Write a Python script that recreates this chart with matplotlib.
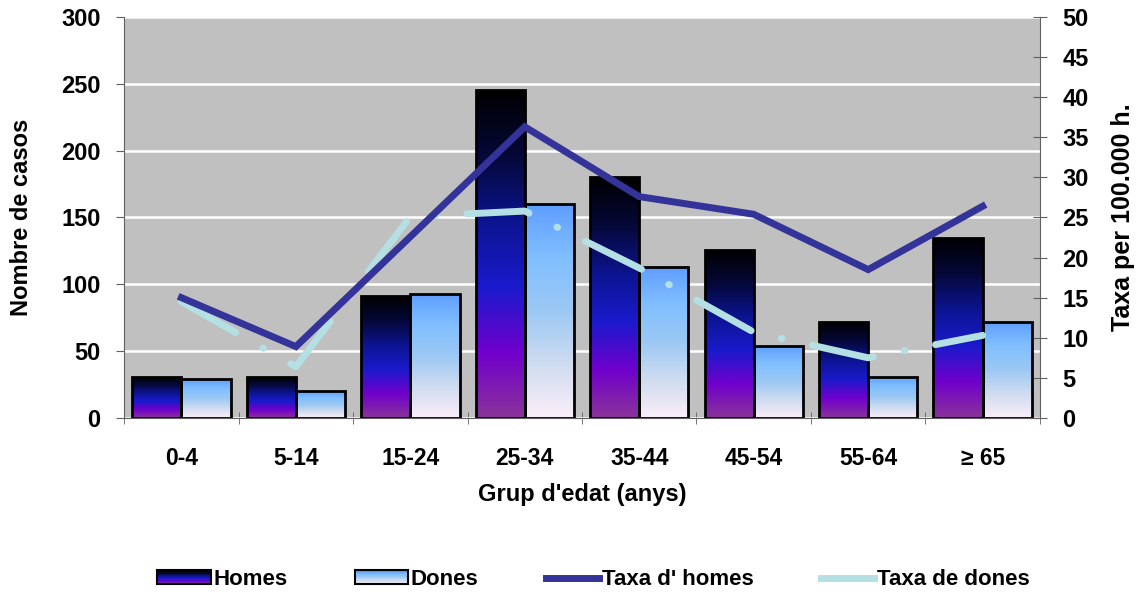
import numpy as np
import matplotlib.pyplot as plt
from matplotlib.colors import LinearSegmentedColormap
from matplotlib.patches import Rectangle
from matplotlib.lines import Line2D
from matplotlib.legend_handler import HandlerBase

plt.rcParams['font.family'] = ['Liberation Sans', 'DejaVu Sans']
plt.rcParams['font.weight'] = 'bold'

# dades
grups = ['0-4', '5-14', '15-24', '25-34', '35-44', '45-54', '55-64', '≥ 65']
casos_homes = [31, 31, 91, 245, 180, 126, 72, 135]
casos_dones = [29, 20, 93, 160, 113, 54, 31, 72]
taxa_homes = [15.0, 8.9, 22.6, 36.3, 27.6, 25.4, 18.5, 26.4]
taxa_dones = [14.5, 6.4, 25.1, 25.8, 18.7, 10.7, 7.5, 10.3]

# degradats de les barres (de baix a dalt)
cmap_homes = LinearSegmentedColormap.from_list(
    'homes', ['#8a3399', '#7000cc', '#1a1acc', '#0c1490', '#050838', '#000000'])
cmap_dones = LinearSegmentedColormap.from_list(
    'dones', ['#fbeef8', '#d0dcf0', '#9cc8f4', '#80bfff', '#5f9dff'])

fig = plt.figure(figsize=(11.39, 5.95), dpi=100)
ax = fig.add_axes([0.109, 0.2975, 0.804, 0.674])
ax.set_facecolor('#c0c0c0')

x = np.arange(len(grups))
amplada = 0.43
grad = np.linspace(0, 1, 256).reshape(-1, 1)


def barres_degradat(xs, valors, cmap):
    bars = ax.bar(xs, valors, amplada, facecolor='none', edgecolor='black',
                  linewidth=2, zorder=3)
    for b in bars:
        x0, w, h = b.get_x(), b.get_width(), b.get_height()
        im = ax.imshow(grad, cmap=cmap, origin='lower', aspect='auto',
                       extent=(x0, x0 + w, 0, h), zorder=2)
        im.set_clip_path(b)
    return bars


barres_degradat(x - amplada / 2, casos_homes, cmap_homes)
barres_degradat(x + amplada / 2, casos_dones, cmap_dones)

ax.set_xlim(-0.5, len(grups) - 0.5)
ax.set_ylim(0, 300)
ax.set_yticks(range(0, 301, 50))
ax.set_xticks(x)
ax.set_xticklabels(grups)
ax.set_xticks(np.arange(-0.5, len(grups), 1), minor=True)
ax.tick_params(axis='x', which='major', length=0, labelsize=16.5, pad=21)
ax.tick_params(axis='x', which='minor', length=8, direction='inout',
               color='#606060')
ax.tick_params(axis='y', labelsize=17, length=6, color='#606060', pad=11)
ax.yaxis.grid(True, color='white', linewidth=1.8)
ax.set_axisbelow(True)
for s in ['top', 'right']:
    ax.spines[s].set_visible(False)
ax.spines['left'].set_color('#606060')
ax.spines['bottom'].set_color('#606060')
ax.set_xlabel("Grup d'edat (anys)", fontsize=17, fontweight='bold', labelpad=9)
ax.set_ylabel('Nombre de casos', fontsize=17, fontweight='bold', labelpad=20)

# taxes a l'eix dret
ax2 = ax.twinx()
ax2.set_ylim(0, 50)
ax2.set_yticks(range(0, 51, 5))
ax2.tick_params(axis='y', labelsize=17, length=10, direction='inout',
                color='#606060', pad=11)
for s in ['top', 'left', 'bottom']:
    ax2.spines[s].set_visible(False)
ax2.spines['right'].set_color('#606060')
ax2.set_ylabel('Taxa per 100.000 h.', fontsize=18, fontweight='bold',
               labelpad=16)

ax2.plot(x, taxa_homes, color='#333399', linewidth=5, zorder=5,
         solid_joinstyle='miter')
ld, = ax2.plot(x, taxa_dones, color='#b4e0e4', linewidth=5, zorder=4,
               dash_capstyle='round')
ld.set_dashes((9, 4.5, 0.1, 4.5))


class HandlerGradient(HandlerBase):
    def __init__(self, cmap):
        super().__init__()
        self.cmap = cmap

    def create_artists(self, legend, orig_handle, xdescent, ydescent,
                       width, height, fontsize, trans):
        arts = []
        n = 12
        for i in range(n):
            r = Rectangle((-xdescent, -ydescent + height * i / n), width,
                          height / n + 0.2, facecolor=self.cmap(i / (n - 1)),
                          edgecolor='none', transform=trans)
            arts.append(r)
        arts.append(Rectangle((-xdescent, -ydescent), width, height,
                              facecolor='none', edgecolor='black',
                              linewidth=1.5, transform=trans))
        return arts


h_homes = Rectangle((0, 0), 1, 1)
h_dones = Rectangle((0, 1), 1, 1)
h_th = Line2D([], [], color='#333399', linewidth=5, marker='D',
              markersize=2, markerfacecolor='#333399')
h_td = Line2D([], [], color='#b4e0e4', linewidth=5, marker='D',
              markersize=2)
fig.legend([h_homes, h_dones, h_th, h_td],
           ['Homes', 'Dones', "Taxa d' homes", 'Taxa de dones'],
           handler_map={h_homes: HandlerGradient(cmap_homes),
                        h_dones: HandlerGradient(cmap_dones)},
           loc='center', bbox_to_anchor=(0.521, 0.026), ncol=4,
           frameon=False, handlelength=2.4, handleheight=0.55,
           handletextpad=0.1, columnspacing=3.05, borderpad=0,
           prop={'weight': 'bold', 'size': 16})

fig.savefig('out.png', dpi=100)
